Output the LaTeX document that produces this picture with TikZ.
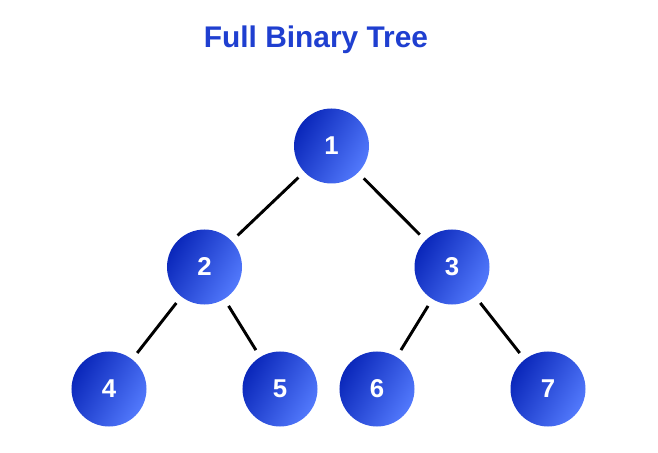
\documentclass[tikz,border=0pt]{standalone}
\usepackage{fontspec}
\setmainfont{Liberation Sans}
\usepackage{tikz}
\usetikzlibrary{arrows.meta,positioning}
\usepackage{xcolor}
\definecolor{nodedark}{HTML}{0A27BA}
\definecolor{nodelight}{HTML}{5279FC}
\definecolor{titleblue}{HTML}{1F3FD0}

\begin{document}
\begin{tikzpicture}[
  x=0.03cm, y=-0.03cm,
  vertex/.style={circle, minimum size=2.25cm, inner sep=0pt, text=white,
                 left color=nodedark, right color=nodelight, shading angle=60,
                 font=\fontsize{22}{26}\selectfont\bfseries},
  edge/.style={line width=2.5pt, black, shorten <=0.24cm, shorten >=0.24cm}
]
\useasboundingbox (0,0) rectangle (658,453);

\node[anchor=base, text=titleblue, font=\fontsize{25.5}{30}\selectfont\bfseries] (title) at (316,48) {Full Binary Tree};

% levels of the tree
\node[vertex] (n1) at (331.5,146) {1};
\node[vertex] (n2) at (204.5,267) {2};
\node[vertex] (n3) at (452,267) {3};
\node[vertex] (n4) at (109,389) {4};
\node[vertex] (n5) at (280,389) {5};
\node[vertex] (n6) at (377,389) {6};
\node[vertex] (n7) at (548,389) {7};

\draw[edge] (n1) -- (n2);
\draw[edge] (n1) -- (n3);
\draw[edge] (n2) -- (n4);
\draw[edge] (n2) -- (n5);
\draw[edge] (n3) -- (n6);
\draw[edge] (n3) -- (n7);
\end{tikzpicture}
\end{document}
